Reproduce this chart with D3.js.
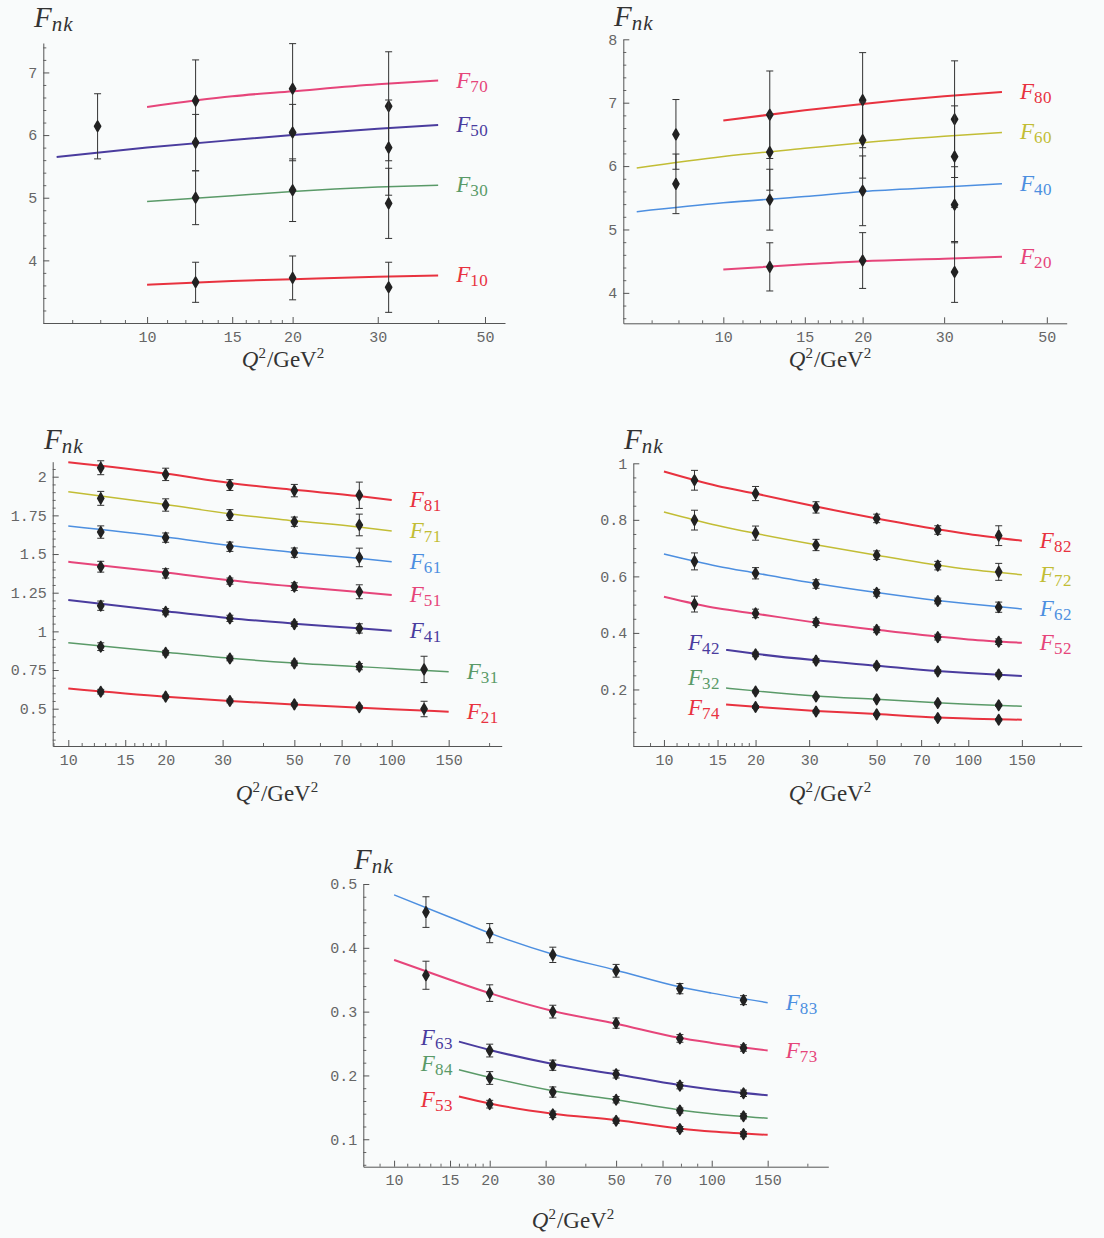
<!DOCTYPE html>
<html><head><meta charset="utf-8">
<script src="https://cdn.jsdelivr.net/npm/d3@7"></script>
<style>body{margin:0;background:#f9fbfb}</style>
</head><body><svg id="c" width="1104" height="1238"></svg>
<script>
// ================= DATA =================
// tick labels
const ticksX_top = [10, 15, 20, 30, 50];
const ticksX_low = [10, 15, 20, 30, 50, 70, 100, 150];
const minorX_top = [7, 8, 9, 11, 12, 13, 14, 16, 17, 18, 19, 40];
const minorX_low = [9, 11, 12, 13, 14, 16, 17, 18, 19, 40, 60, 80, 90, 200];
const ticksY_p1 = [4, 5, 6, 7];
const ticksY_p2 = [4, 5, 6, 7, 8];
const ticksY_p3 = [0.5, 0.75, 1, 1.25, 1.5, 1.75, 2];
const ticksY_p4 = [0.2, 0.4, 0.6, 0.8, 1];
const ticksY_p5 = [0.1, 0.2, 0.3, 0.4, 0.5];

// series per panel
const series_p1 = ["F70", "F50", "F30", "F10"];
const series_p2 = ["F80", "F60", "F40", "F20"];
const series_p3 = ["F81", "F71", "F61", "F51", "F41", "F31", "F21"];
const series_p4 = ["F82", "F72", "F62", "F52", "F42", "F32", "F74"];
const series_p5 = ["F83", "F73", "F63", "F84", "F53"];

// fit curves: [Q2, F]
const F70_fit = [[10,6.45],[15,6.62],[20,6.70],[30,6.81],[40,6.87]];
const F50_fit = [[6.5,5.65],[10,5.80],[15,5.92],[20,6.00],[30,6.10],[40,6.16]];
const F30_fit = [[10,4.94],[15,5.03],[20,5.10],[30,5.17],[40,5.20]];
const F10_fit = [[10,3.61],[15,3.67],[20,3.70],[30,3.74],[40,3.76]];
const F80_fit = [[10,6.72],[15,6.88],[20,6.98],[30,7.10],[40,7.17]];
const F60_fit = [[6.5,5.97],[10,6.15],[15,6.28],[20,6.37],[30,6.47],[40,6.53]];
const F40_fit = [[6.5,5.28],[10,5.42],[15,5.52],[20,5.60],[30,5.67],[40,5.72]];
const F20_fit = [[10,4.37],[15,4.45],[20,4.50],[30,4.54],[40,4.57]];
const F81_fit = [[10,2.093],[20,2.02],[31.6,1.96],[50,1.915],[79,1.875],[100,1.849]];
const F71_fit = [[10,1.903],[20,1.82],[31.6,1.76],[50,1.715],[79,1.675],[100,1.649]];
const F61_fit = [[10,1.681],[20,1.61],[31.6,1.555],[50,1.51],[79,1.472],[100,1.45]];
const F51_fit = [[10,1.45],[20,1.38],[31.6,1.33],[50,1.29],[79,1.255],[100,1.235]];
const F41_fit = [[10,1.203],[20,1.13],[31.6,1.085],[50,1.05],[79,1.02],[100,1.004]];
const F31_fit = [[10,0.927],[20,0.865],[31.6,0.826],[50,0.795],[100,0.76],[150,0.739]];
const F21_fit = [[10,0.631],[20,0.578],[31.6,0.55],[50,0.527],[100,0.497],[150,0.481]];
const F82_fit = [[10,0.971],[15,0.92],[20,0.893],[31.6,0.847],[50,0.805],[79,0.767],[100,0.75],[150,0.726]];
const F72_fit = [[10,0.828],[15,0.78],[20,0.752],[31.6,0.712],[50,0.675],[79,0.64],[100,0.625],[150,0.606]];
const F62_fit = [[10,0.679],[15,0.636],[20,0.612],[31.6,0.575],[50,0.543],[79,0.515],[100,0.503],[150,0.485]];
const F52_fit = [[10,0.528],[15,0.487],[20,0.468],[31.6,0.437],[50,0.411],[79,0.387],[100,0.377],[150,0.365]];
const F42_fit = [[16,0.34],[20,0.326],[31.6,0.303],[50,0.284],[79,0.265],[100,0.258],[150,0.248]];
const F32_fit = [[16,0.205],[20,0.195],[31.6,0.177],[50,0.165],[79,0.153],[100,0.148],[150,0.141]];
const F74_fit = [[16,0.147],[20,0.139],[31.6,0.124],[50,0.113],[79,0.101],[100,0.097],[150,0.093]];
const F83_fit = [[10,0.483],[15,0.448],[20,0.423],[31.6,0.39],[50,0.365],[79,0.339],[100,0.329],[150,0.314]];
const F73_fit = [[10,0.381],[15,0.35],[20,0.329],[31.6,0.301],[50,0.281],[79,0.259],[100,0.251],[150,0.239]];
const F63_fit = [[16,0.253],[20,0.24],[31.6,0.218],[50,0.202],[79,0.185],[100,0.178],[150,0.169]];
const F84_fit = [[16,0.209],[20,0.197],[31.6,0.176],[50,0.162],[79,0.146],[100,0.14],[150,0.133]];
const F53_fit = [[16,0.167],[20,0.156],[31.6,0.14],[50,0.13],[79,0.117],[100,0.112],[150,0.107]];

// data points: [Q2, F, error]
const F70_pts = [[12.6,6.55,0.65],[20,6.74,0.72],[31.6,6.46,0.87]];
const F50_pts = [[7.9,6.14,0.52],[12.6,5.88,0.45],[20,6.04,0.45],[31.6,5.80,0.76]];
const F30_pts = [[12.6,5.00,0.43],[20,5.12,0.50],[31.6,4.91,0.56]];
const F10_pts = [[12.6,3.65,0.32],[20,3.72,0.35],[31.6,3.57,0.40]];
const F80_pts = [[12.6,6.81,0.69],[20,7.04,0.75],[31.6,6.74,0.92]];
const F60_pts = [[7.9,6.50,0.55],[12.6,6.22,0.60],[20,6.41,0.60],[31.6,6.15,0.80]];
const F40_pts = [[7.9,5.72,0.47],[12.6,5.47,0.48],[20,5.61,0.55],[31.6,5.39,0.60]];
const F20_pts = [[12.6,4.41,0.38],[20,4.51,0.44],[31.6,4.33,0.48]];
const F81_pts = [[12.6,2.058,0.045],[20,2.015,0.04],[31.6,1.946,0.035],[50,1.91,0.04],[79.4,1.88,0.085]];
const F71_pts = [[12.6,1.86,0.045],[20,1.817,0.04],[31.6,1.752,0.035],[50,1.709,0.03],[79.4,1.688,0.07]];
const F61_pts = [[12.6,1.642,0.04],[20,1.606,0.03],[31.6,1.547,0.03],[50,1.509,0.03],[79.4,1.478,0.06]];
const F51_pts = [[12.6,1.418,0.035],[20,1.375,0.03],[31.6,1.325,0.02],[50,1.289,0.025],[79.4,1.256,0.045]];
const F41_pts = [[12.6,1.166,0.03],[20,1.127,0.02],[31.6,1.084,0.02],[50,1.047,0.015],[79.4,1.019,0.03]];
const F31_pts = [[12.6,0.901,0.025],[20,0.862,0.015],[31.6,0.825,0.015],[50,0.793,0.015],[79.4,0.772,0.02],[125.9,0.754,0.085]];
const F21_pts = [[12.6,0.61,0.015],[20,0.578,0.01],[31.6,0.55,0.012],[50,0.528,0.01],[79.4,0.509,0.01],[125.9,0.498,0.05]];
const F82_pts = [[12.6,0.94,0.035],[20,0.893,0.025],[31.6,0.844,0.02],[50,0.805,0.015],[79.4,0.764,0.015],[125.9,0.744,0.035]];
const F72_pts = [[12.6,0.799,0.035],[20,0.753,0.025],[31.6,0.711,0.02],[50,0.675,0.015],[79.4,0.638,0.015],[125.9,0.616,0.03]];
const F62_pts = [[12.6,0.653,0.03],[20,0.611,0.02],[31.6,0.573,0.015],[50,0.542,0.012],[79.4,0.513,0.01],[125.9,0.491,0.018]];
const F52_pts = [[12.6,0.502,0.028],[20,0.469,0.015],[31.6,0.438,0.012],[50,0.411,0.01],[79.4,0.385,0.01],[125.9,0.369,0.01]];
const F42_pts = [[20,0.324,0.008],[31.6,0.302,0.007],[50,0.284,0.006],[79.4,0.264,0.006],[125.9,0.253,0.006]];
const F32_pts = [[20,0.193,0.005],[31.6,0.175,0.004],[50,0.165,0.004],[79.4,0.152,0.004],[125.9,0.144,0.004]];
const F74_pts = [[20,0.138,0.005],[31.6,0.122,0.005],[50,0.112,0.004],[79.4,0.099,0.004],[125.9,0.093,0.004]];
const F83_pts = [[12.6,0.456,0.024],[20,0.423,0.015],[31.6,0.389,0.012],[50,0.364,0.01],[79.4,0.336,0.008],[125.9,0.318,0.007]];
const F73_pts = [[12.6,0.357,0.022],[20,0.329,0.013],[31.6,0.300,0.01],[50,0.282,0.008],[79.4,0.258,0.006],[125.9,0.243,0.005]];
const F63_pts = [[20,0.239,0.01],[31.6,0.216,0.008],[50,0.202,0.006],[79.4,0.184,0.005],[125.9,0.172,0.005]];
const F84_pts = [[20,0.196,0.01],[31.6,0.174,0.008],[50,0.162,0.005],[79.4,0.145,0.004],[125.9,0.136,0.004]];
const F53_pts = [[20,0.155,0.006],[31.6,0.139,0.005],[50,0.129,0.004],[79.4,0.116,0.004],[125.9,0.108,0.004]];

// lookup tables built from the arrays above
const fits = {F70:F70_fit,F50:F50_fit,F30:F30_fit,F10:F10_fit,F80:F80_fit,F60:F60_fit,F40:F40_fit,F20:F20_fit,
  F81:F81_fit,F71:F71_fit,F61:F61_fit,F51:F51_fit,F41:F41_fit,F31:F31_fit,F21:F21_fit,
  F82:F82_fit,F72:F72_fit,F62:F62_fit,F52:F52_fit,F42:F42_fit,F32:F32_fit,F74:F74_fit,
  F83:F83_fit,F73:F73_fit,F63:F63_fit,F84:F84_fit,F53:F53_fit};
const pts = {F70:F70_pts,F50:F50_pts,F30:F30_pts,F10:F10_pts,F80:F80_pts,F60:F60_pts,F40:F40_pts,F20:F20_pts,
  F81:F81_pts,F71:F71_pts,F61:F61_pts,F51:F51_pts,F41:F41_pts,F31:F31_pts,F21:F21_pts,
  F82:F82_pts,F72:F72_pts,F62:F62_pts,F52:F52_pts,F42:F42_pts,F32:F32_pts,F74:F74_pts,
  F83:F83_pts,F73:F73_pts,F63:F63_pts,F84:F84_pts,F53:F53_pts};

// ================= STYLE / LAYOUT =================
const RED = "#e8323f", PINK = "#e6457a", PURPLE = "#4a3c9e", GREEN = "#5a9a68", OLIVE = "#c2bd35", LBLUE = "#4d8fe0";
const colors = {F70:PINK,F50:PURPLE,F30:GREEN,F10:RED,F80:RED,F60:OLIVE,F40:LBLUE,F20:PINK,
  F81:RED,F71:OLIVE,F61:LBLUE,F51:PINK,F41:PURPLE,F31:GREEN,F21:RED,
  F82:RED,F72:OLIVE,F62:LBLUE,F52:PINK,F42:PURPLE,F32:GREEN,F74:RED,
  F83:LBLUE,F73:PINK,F63:PURPLE,F84:GREEN,F53:RED};
// labels at left of curve start: vertical offset of baseline
const leftLabels = {F42:0, F32:-3, F74:11, F63:3, F84:1, F53:10};

const layout = [
  {left:43.3, right:505, top:43, bottom:323, xDomain:[6.1,55], yDomain:[3.0,7.47],
   xTicks:ticksX_top, xMinor:minorX_top, yTicks:ticksY_p1, yStep:0.2, series:series_p1, title:[34,27], xlab:[283,367]},
  {left:623.3, right:1066.7, top:39.3, bottom:323.3, xDomain:[6.08,55.2], yDomain:[3.52,8.0],
   xTicks:ticksX_top, xMinor:minorX_top, yTicks:ticksY_p2, yStep:0.2, series:series_p2, title:[614,26], xlab:[830,367]},
  {left:52.7, right:501.7, top:461.7, bottom:746, xDomain:[8.95,218.8], yDomain:[0.2588,2.097],
   xTicks:ticksX_low, xMinor:minorX_low, yTicks:ticksY_p3, yStep:0.05, series:series_p3, title:[44,449], xlab:[277,801]},
  {left:633.3, right:1081.7, top:463.3, bottom:746, xDomain:[7.93,235.9], yDomain:[0,1],
   xTicks:ticksX_low, xMinor:minorX_low, yTicks:ticksY_p4, yStep:0.05, series:series_p4, title:[624,449], xlab:[830,801]},
  {left:363.3, right:828.3, top:884, bottom:1166.7, xDomain:[8.0,232.8], yDomain:[0.057,0.5],
   xTicks:ticksX_low, xMinor:minorX_low, yTicks:ticksY_p5, yStep:0.02, series:series_p5, title:[354,869], xlab:[573,1228]}
];

const svg = d3.select("#c");
svg.append("rect").attr("width",1104).attr("height",1238).attr("fill","#f9fbfb");
const SERIF = "'Liberation Serif','Times New Roman',serif";
const MONO = "'Liberation Mono','DejaVu Sans Mono',monospace";

layout.forEach(cfg => {
  const g = svg.append("g");
  const x = d3.scaleLog().domain(cfg.xDomain).range([cfg.left, cfg.right]);
  const y = d3.scaleLinear().domain(cfg.yDomain).range([cfg.bottom, cfg.top]);

  // minor ticks
  const yMinor = d3.range(Math.ceil(cfg.yDomain[0]/cfg.yStep)*cfg.yStep, cfg.yDomain[1]+1e-9, cfg.yStep)
    .filter(v => !cfg.yTicks.some(t => Math.abs(t-v) < 1e-6));
  g.append("g").attr("transform",`translate(0,${cfg.bottom})`).attr("color","#666")
    .call(d3.axisBottom(x).tickValues(cfg.xMinor.filter(v=>v>cfg.xDomain[0]&&v<cfg.xDomain[1])).tickSize(-3).tickFormat(()=>""))
    .call(a=>a.select(".domain").remove());
  g.append("g").attr("transform",`translate(${cfg.left},0)`).attr("color","#666")
    .call(d3.axisLeft(y).tickValues(yMinor).tickSize(-3).tickFormat(()=>""))
    .call(a=>a.select(".domain").remove());

  // major axes
  const xa = g.append("g").attr("transform",`translate(0,${cfg.bottom})`).attr("color","#555")
    .call(d3.axisBottom(x).tickValues(cfg.xTicks).tickSize(-6).tickSizeOuter(0).tickPadding(8).tickFormat(d=>String(d)));
  xa.attr("font-family",MONO).attr("font-size",15);
  xa.selectAll("text").attr("fill","#666");
  const ya = g.append("g").attr("transform",`translate(${cfg.left},0)`).attr("color","#555")
    .call(d3.axisLeft(y).tickValues(cfg.yTicks).tickSize(-6).tickSizeOuter(0).tickPadding(6).tickFormat(d=>String(d)));
  ya.attr("font-family",MONO).attr("font-size",15);
  ya.selectAll("text").attr("fill","#666");

  // curves
  const line = d3.line().x(d=>x(d[0])).y(d=>y(d[1])).curve(d3.curveMonotoneX);
  cfg.series.forEach(name => {
    const c = colors[name];
    const thin = (c===GREEN||c===OLIVE||c===LBLUE);
    g.append("path").datum(fits[name]).attr("d",line).attr("fill","none")
      .attr("stroke",c).attr("stroke-width",thin?1.5:2);
  });

  // error bars & points
  cfg.series.forEach(name => {
    const data = pts[name];
    const eb = g.append("g").attr("stroke","#333").attr("stroke-width",1);
    data.forEach(d => {
      const px = x(d[0]);
      eb.append("line").attr("x1",px).attr("x2",px).attr("y1",y(d[1]-d[2])).attr("y2",y(d[1]+d[2]));
      eb.append("line").attr("x1",px-3.5).attr("x2",px+3.5).attr("y1",y(d[1]-d[2])).attr("y2",y(d[1]-d[2]));
      eb.append("line").attr("x1",px-3.5).attr("x2",px+3.5).attr("y1",y(d[1]+d[2])).attr("y2",y(d[1]+d[2]));
    });
    g.append("g").selectAll("path").data(data).join("path")
      .attr("d", d3.symbol(d3.symbolDiamond, 30))
      .attr("transform", d=>`translate(${x(d[0])},${y(d[1])})`)
      .attr("fill","#222").attr("stroke","#222").attr("stroke-width",1.8).attr("stroke-linejoin","round");
  });

  // series labels
  cfg.series.forEach(name => {
    const f = fits[name];
    const c = colors[name];
    let t;
    if (name in leftLabels) {
      const s = f[0];
      t = g.append("text").attr("x", x(s[0]) - 6).attr("y", y(s[1]) + leftLabels[name]).attr("text-anchor","end");
    } else {
      const e = f[f.length-1];
      t = g.append("text").attr("x", x(e[0]) + 18).attr("y", y(e[1]) + 7);
    }
    t.attr("fill", c).attr("font-family", SERIF);
    t.append("tspan").attr("font-style","italic").attr("font-size",23).text("F");
    t.append("tspan").attr("font-size",17).attr("dy",4).attr("dx",0).attr("letter-spacing",0.5).text(name.slice(1));
  });

  // y title F_nk
  const tt = g.append("text").attr("x",cfg.title[0]).attr("y",cfg.title[1]).attr("fill","#333").attr("font-family",SERIF);
  tt.append("tspan").attr("font-style","italic").attr("font-size",29).text("F");
  tt.append("tspan").attr("font-style","italic").attr("font-size",21).attr("dy",4).attr("letter-spacing",1).text("nk");

  // x title Q^2/GeV^2
  const xt = g.append("text").attr("x",cfg.xlab[0]).attr("y",cfg.xlab[1]).attr("text-anchor","middle")
    .attr("fill","#333").attr("font-family",SERIF).attr("font-size",23);
  xt.append("tspan").attr("font-style","italic").text("Q");
  xt.append("tspan").attr("font-size",15).attr("dy",-9).text("2");
  xt.append("tspan").attr("dy",9).attr("dx",1).text("/GeV");
  xt.append("tspan").attr("font-size",15).attr("dy",-9).text("2");
});
</script></body></html>
